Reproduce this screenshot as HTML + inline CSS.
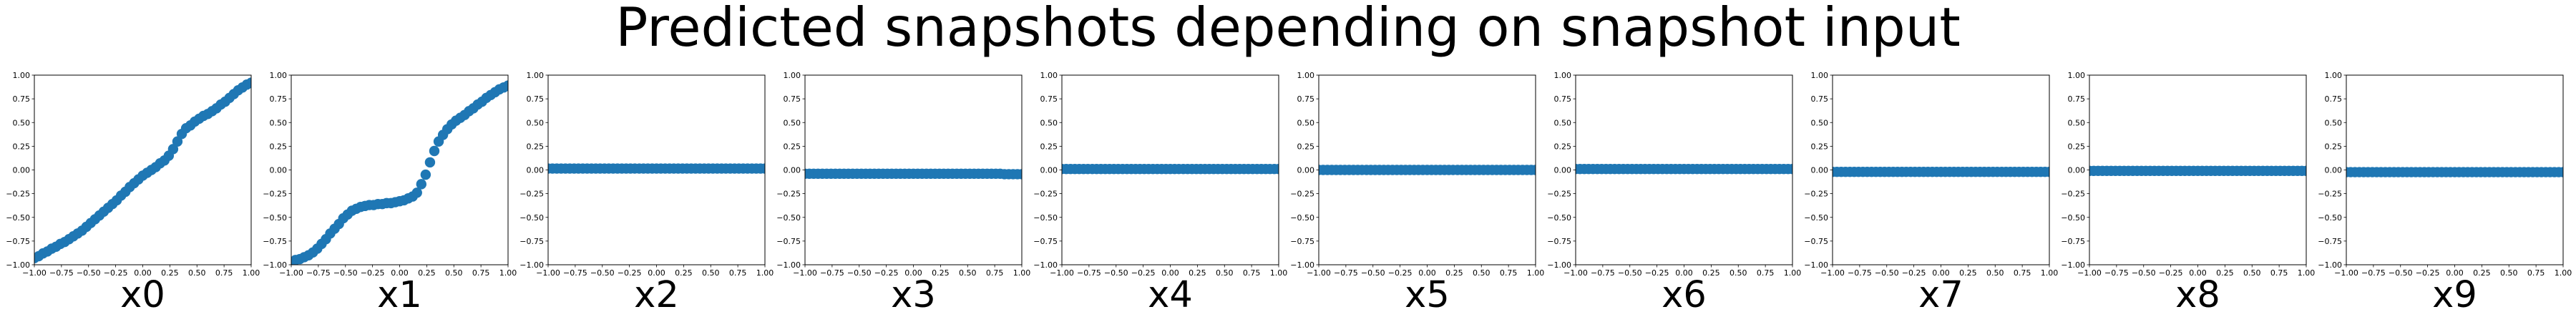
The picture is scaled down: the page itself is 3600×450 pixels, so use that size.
<!DOCTYPE html>
<html><head><meta charset="utf-8">
<style>
html,body{margin:0;padding:0;background:#fff;}
svg{display:block;}
text{font-family:"DejaVu Sans","Liberation Sans",sans-serif;fill:#000;}
</style></head>
<body>
<svg id="fig" width="3600" height="450" viewBox="0 0 3600 450" xmlns="http://www.w3.org/2000/svg">
<rect width="3600" height="450" fill="#fff"/>
<text x="1800" y="64" font-size="75" text-anchor="middle">Predicted snapshots depending on snapshot input</text>
</svg>
<script>
const xValues = [-1.00,-0.96,-0.92,-0.88,-0.84,-0.80,-0.76,-0.72,-0.68,-0.64,-0.60,-0.56,-0.52,-0.48,-0.44,-0.40,-0.36,-0.32,-0.28,-0.24,-0.20,-0.16,-0.12,-0.08,-0.04,0.00,0.04,0.08,0.12,0.16,0.20,0.24,0.28,0.32,0.36,0.40,0.44,0.48,0.52,0.56,0.60,0.64,0.68,0.72,0.76,0.80,0.84,0.88,0.92,0.96,1.00];
const panelNames = ["x0","x1","x2","x3","x4","x5","x6","x7","x8","x9"];
const seriesX0 = [-0.93,-0.91,-0.88,-0.86,-0.83,-0.81,-0.78,-0.76,-0.73,-0.70,-0.67,-0.64,-0.60,-0.56,-0.52,-0.48,-0.44,-0.40,-0.36,-0.32,-0.27,-0.23,-0.18,-0.14,-0.10,-0.06,-0.03,0.00,0.03,0.07,0.10,0.15,0.22,0.30,0.38,0.44,0.47,0.51,0.54,0.57,0.59,0.62,0.65,0.69,0.72,0.76,0.80,0.84,0.87,0.90,0.92];
const seriesX1 = [-0.97,-0.95,-0.94,-0.92,-0.90,-0.87,-0.83,-0.78,-0.73,-0.67,-0.62,-0.57,-0.51,-0.47,-0.43,-0.41,-0.39,-0.38,-0.37,-0.37,-0.36,-0.36,-0.35,-0.35,-0.34,-0.33,-0.32,-0.30,-0.28,-0.24,-0.15,-0.05,0.08,0.20,0.30,0.37,0.43,0.48,0.52,0.55,0.58,0.62,0.65,0.69,0.72,0.76,0.79,0.82,0.85,0.87,0.89];
const seriesX2 = [0.015,0.015,0.015,0.015,0.015,0.015,0.015,0.015,0.015,0.015,0.015,0.015,0.015,0.015,0.015,0.015,0.015,0.015,0.015,0.015,0.015,0.015,0.015,0.015,0.015,0.015,0.015,0.015,0.015,0.015,0.015,0.015,0.015,0.015,0.015,0.015,0.015,0.015,0.015,0.015,0.015,0.015,0.015,0.015,0.015,0.015,0.015,0.015,0.015,0.015,0.015];
const seriesX3 = [-0.04,-0.04,-0.04,-0.04,-0.04,-0.04,-0.04,-0.04,-0.04,-0.04,-0.04,-0.04,-0.04,-0.04,-0.04,-0.04,-0.04,-0.04,-0.04,-0.04,-0.04,-0.04,-0.04,-0.04,-0.04,-0.04,-0.04,-0.04,-0.04,-0.04,-0.04,-0.04,-0.04,-0.04,-0.04,-0.04,-0.04,-0.04,-0.04,-0.04,-0.04,-0.04,-0.04,-0.04,-0.04,-0.04,-0.045,-0.045,-0.045,-0.045,-0.045];
const seriesX4 = [0.01,0.01,0.01,0.01,0.01,0.01,0.01,0.01,0.01,0.01,0.01,0.01,0.01,0.01,0.01,0.01,0.01,0.01,0.01,0.01,0.01,0.01,0.01,0.01,0.01,0.01,0.01,0.01,0.01,0.01,0.01,0.01,0.01,0.01,0.01,0.01,0.01,0.01,0.01,0.01,0.01,0.01,0.01,0.01,0.01,0.01,0.01,0.01,0.01,0.01,0.01];
const seriesX5 = [0.0,0.0,0.0,0.0,0.0,0.0,0.0,0.0,0.0,0.0,0.0,0.0,0.0,0.0,0.0,0.0,0.0,0.0,0.0,0.0,0.0,0.0,0.0,0.0,0.0,0.0,0.0,0.0,0.0,0.0,0.0,0.0,0.0,0.0,0.0,0.0,0.0,0.0,0.0,0.0,0.0,0.0,0.0,0.0,0.0,0.0,0.0,0.0,0.0,0.0,0.0];
const seriesX6 = [0.01,0.01,0.01,0.01,0.01,0.01,0.01,0.01,0.01,0.01,0.01,0.01,0.01,0.01,0.01,0.01,0.01,0.01,0.01,0.01,0.01,0.01,0.01,0.01,0.01,0.01,0.01,0.01,0.01,0.01,0.01,0.01,0.01,0.01,0.01,0.01,0.01,0.01,0.01,0.01,0.01,0.01,0.01,0.01,0.01,0.01,0.01,0.01,0.01,0.01,0.01];
const seriesX7 = [-0.02,-0.02,-0.02,-0.02,-0.02,-0.02,-0.02,-0.02,-0.02,-0.02,-0.02,-0.02,-0.02,-0.02,-0.02,-0.02,-0.02,-0.02,-0.02,-0.02,-0.02,-0.02,-0.02,-0.02,-0.02,-0.02,-0.02,-0.02,-0.02,-0.02,-0.02,-0.02,-0.02,-0.02,-0.02,-0.02,-0.02,-0.02,-0.02,-0.02,-0.02,-0.02,-0.02,-0.02,-0.02,-0.02,-0.02,-0.02,-0.02,-0.02,-0.02];
const seriesX8 = [-0.01,-0.01,-0.01,-0.01,-0.01,-0.01,-0.01,-0.01,-0.01,-0.01,-0.01,-0.01,-0.01,-0.01,-0.01,-0.01,-0.01,-0.01,-0.01,-0.01,-0.01,-0.01,-0.01,-0.01,-0.01,-0.01,-0.01,-0.01,-0.01,-0.01,-0.01,-0.01,-0.01,-0.01,-0.01,-0.01,-0.01,-0.01,-0.01,-0.01,-0.01,-0.01,-0.01,-0.01,-0.01,-0.01,-0.01,-0.01,-0.01,-0.01,-0.01];
const seriesX9 = [-0.023,-0.023,-0.023,-0.023,-0.023,-0.023,-0.023,-0.023,-0.023,-0.023,-0.023,-0.023,-0.023,-0.023,-0.023,-0.023,-0.023,-0.023,-0.023,-0.023,-0.023,-0.023,-0.023,-0.023,-0.023,-0.023,-0.023,-0.023,-0.023,-0.023,-0.023,-0.023,-0.023,-0.023,-0.023,-0.023,-0.023,-0.023,-0.023,-0.023,-0.023,-0.023,-0.023,-0.023,-0.023,-0.023,-0.023,-0.023,-0.023,-0.023,-0.023];
const tickValues = [-1.00,-0.75,-0.50,-0.25,0.00,0.25,0.50,0.75,1.00];
const tickLabels = ["\u22121.00","\u22120.75","\u22120.50","\u22120.25","0.00","0.25","0.50","0.75","1.00"];
const allSeries = [seriesX0,seriesX1,seriesX2,seriesX3,seriesX4,seriesX5,seriesX6,seriesX7,seriesX8,seriesX9];

const NS = "http://www.w3.org/2000/svg";
const svg = document.getElementById("fig");
const PANEL_LEFT0 = 48, PANEL_STEP = 359, PANEL_W = 303, TOP = 105, BOTTOM = 370;
function mk(tag, attrs, parent){ const e=document.createElementNS(NS,tag); for(const k in attrs) e.setAttribute(k,attrs[k]); parent.appendChild(e); return e; }

panelNames.forEach((name, p) => {
  const left = PANEL_LEFT0 + p*PANEL_STEP, right = left + PANEL_W;
  const sx = v => left + (v + 1) / 2 * PANEL_W;
  const sy = v => BOTTOM - (v + 1) / 2 * (BOTTOM - TOP);
  const g = mk("g", {}, svg);
  
  
  const cp = mk("clipPath", {id: "clip" + p}, g);
  mk("rect", {x: left, y: TOP, width: PANEL_W, height: BOTTOM - TOP}, cp);
  const pts = mk("g", {"clip-path": "url(#clip" + p + ")", fill: "#1f77b4"}, g);
  
  
  const ys = allSeries[p];
  xValues.forEach((xv, i) => {
    const c = mk("circle", {cx: sx(xv), cy: sy(ys[i]), r: 7.2}, pts);
    
    
  });
  const frame = mk("rect", {x: left, y: TOP, width: PANEL_W, height: BOTTOM - TOP, fill: "none", stroke: "#000", "stroke-width": 1}, g);
  
  
  tickValues.forEach((tv, i) => {
    const X = sx(tv);
    mk("line", {x1: X, y1: BOTTOM, x2: X, y2: BOTTOM + 3.5, stroke: "#000", "stroke-width": 0.8}, g);
    const tx = mk("text", {x: X, y: BOTTOM + 15, "font-size": 11, "text-anchor": "middle"}, g);
    tx.textContent = tickLabels[i];
    
    
    const Y = sy(tv);
    mk("line", {x1: left - 3.5, y1: Y, x2: left, y2: Y, stroke: "#000", "stroke-width": 0.8}, g);
    const ty = mk("text", {x: left - 6, y: Y + 4, "font-size": 11, "text-anchor": "end"}, g);
    ty.textContent = tickLabels[i];
    
    
  });
  const lab = mk("text", {x: (left + right) / 2, y: 429, "font-size": 51, "text-anchor": "middle"}, g);
  lab.textContent = name;
  
  
});
</script>
</body></html>
